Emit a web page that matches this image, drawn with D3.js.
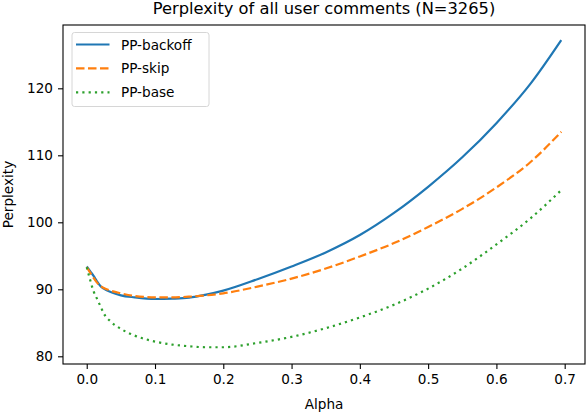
<!DOCTYPE html>
<html>
<head>
<meta charset="utf-8">
<script src="https://cdn.jsdelivr.net/npm/d3@7"></script>
<style>
  body { margin: 0; background: #fff; }
  text { font-family: "DejaVu Sans", sans-serif; fill: #000; }
</style>
</head>
<body>
<div id="chart"></div>
<script>
// データ
const alphas = [0, 0.005, 0.01, 0.015, 0.02, 0.025, 0.035, 0.05, 0.07, 0.1, 0.125, 0.15, 0.175, 0.2,
  0.25, 0.3, 0.35, 0.4, 0.45, 0.5, 0.55, 0.6, 0.65, 0.695];
const ppBackoff = [93.4, 92.7, 92.0, 91.2, 90.5, 90.1, 89.6, 89.1, 88.8, 88.55, 88.6, 88.75, 89.2, 89.8,
  91.5, 93.4, 95.5, 98.1, 101.4, 105.3, 109.7, 114.8, 120.7, 127.2];
const ppSkip = [93.3, 92.5, 91.7, 91.0, 90.5, 90.2, 89.8, 89.4, 89.0, 88.8, 88.8, 88.9, 89.1, 89.4,
  90.4, 91.6, 93.1, 94.9, 96.9, 99.3, 102.0, 105.2, 109.0, 113.5];
const ppBase = [93.3, 91.4, 89.7, 88.6, 87.5, 86.4, 85.2, 84.1, 83.1, 82.2, 81.75, 81.5, 81.35, 81.35,
  82.0, 82.9, 84.2, 85.8, 87.7, 90.1, 93.1, 96.7, 100.6, 104.8];
const seriesNames = ['PP-backoff', 'PP-skip', 'PP-base'];
const xTicks = [0, 0.1, 0.2, 0.3, 0.4, 0.5, 0.6, 0.7];
const yTicks = [80, 90, 100, 110, 120];

const series = [
  { name: seriesNames[0], values: ppBackoff, color: '#1f77b4', dash: null },
  { name: seriesNames[1], values: ppSkip, color: '#ff7f0e', dash: '8.5,3.5' },
  { name: seriesNames[2], values: ppBase, color: '#2ca02c', dash: '2.2,4.1' }
];

// svg領域設定
const svgWidth = 586;
const svgHeight = 412;
const svg = d3.select('#chart')
  .append('svg')
  .attr('width', svgWidth)
  .attr('height', svgHeight);

const plotL = 63, plotR = 585, plotT = 25, plotB = 364;

// scale設定
const x = d3.scaleLinear().domain([-0.03475, 0.72975]).range([plotL, plotR]);
const y = d3.scaleLinear().domain([78.85, 129.45]).range([plotB, plotT]);

// lines
const line = d3.line()
  .x((d, i) => x(alphas[i]))
  .y(d => y(d))
  .curve(d3.curveMonotoneX);

const plot = svg.append('g');
series.forEach(s => {
  plot.append('path')
    .attr('d', line(s.values))
    .attr('fill', 'none')
    .attr('stroke', s.color)
    .attr('stroke-width', 2.2)
    .attr('stroke-dasharray', s.dash);
});

// axes
const xAxis = d3.axisBottom(x)
  .tickValues(xTicks)
  .tickFormat(d3.format('.1f'))
  .tickSize(5)
  .tickPadding(5);
const yAxis = d3.axisLeft(y)
  .tickValues(yTicks)
  .tickSize(5)
  .tickPadding(5);

const gx = svg.append('g')
  .attr('transform', `translate(0,${plotB})`)
  .call(xAxis);
const gy = svg.append('g')
  .attr('transform', `translate(${plotL},0)`)
  .call(yAxis);
[gx, gy].forEach(g => {
  g.select('.domain').remove();
  g.selectAll('line').attr('stroke', '#000').attr('stroke-width', 1.1);
  g.selectAll('text')
    .attr('font-size', '13.6px')
    .attr('font-family', '"DejaVu Sans", sans-serif')
    .attr('fill', '#000');
});

// frame
svg.append('rect')
  .attr('x', plotL)
  .attr('y', plotT)
  .attr('width', plotR - plotL)
  .attr('height', plotB - plotT)
  .attr('fill', 'none')
  .attr('stroke', '#000')
  .attr('stroke-width', 1.1);

// labels
svg.append('text')
  .attr('x', (plotL + plotR) / 2)
  .attr('y', 14)
  .attr('text-anchor', 'middle')
  .attr('font-size', '16.3px')
  .text('Perplexity of all user comments (N=3265)');

svg.append('text')
  .attr('x', (plotL + plotR) / 2)
  .attr('y', 409)
  .attr('text-anchor', 'middle')
  .attr('font-size', '13.6px')
  .text('Alpha');

svg.append('text')
  .attr('transform', `translate(13,${(plotT + plotB) / 2}) rotate(-90)`)
  .attr('text-anchor', 'middle')
  .attr('font-size', '13.6px')
  .text('Perplexity');

// legend
const legend = svg.append('g');
legend.append('rect')
  .attr('x', 72)
  .attr('y', 32.5)
  .attr('width', 137)
  .attr('height', 74)
  .attr('rx', 2.5)
  .attr('fill', '#fff')
  .attr('fill-opacity', 0.8)
  .attr('stroke', '#d6d6d6')
  .attr('stroke-width', 1);

series.forEach((s, i) => {
  const ly = 44.5 + i * 23.9;
  legend.append('line')
    .attr('x1', 76)
    .attr('x2', 109.5)
    .attr('y1', ly)
    .attr('y2', ly)
    .attr('stroke', s.color)
    .attr('stroke-width', 2.2)
    .attr('stroke-dasharray', s.dash);
  legend.append('text')
    .attr('x', 121)
    .attr('y', ly + 5)
    .attr('font-size', '13.6px')
    .text(s.name);
});
</script>
</body>
</html>
